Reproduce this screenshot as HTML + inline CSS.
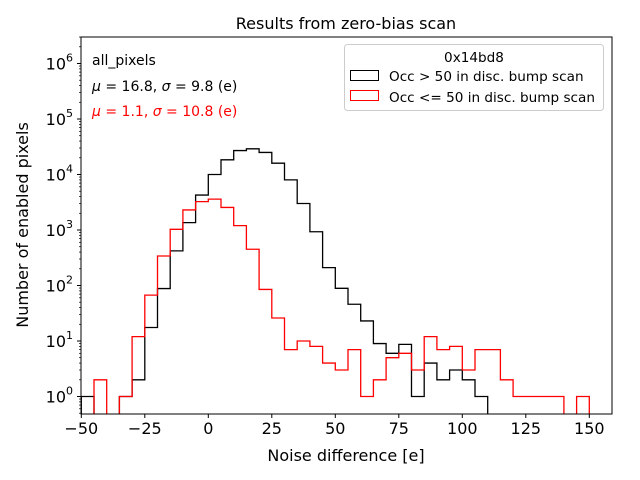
<!DOCTYPE html>
<html><head><meta charset="utf-8"><style>
html,body{margin:0;padding:0;background:#fff;overflow:hidden;width:640px;height:480px;}
svg{display:block;}
svg text{font-family:"DejaVu Sans","Liberation Sans",sans-serif;}
</style></head><body>
<svg id="chart" width="640" height="480" viewBox="0 0 640 480" xmlns="http://www.w3.org/2000/svg">
<defs><clipPath id="clip"><rect x="81" y="37" width="531" height="377"/></clipPath></defs>
<rect width="640" height="480" fill="#fff"/>
<text x="346" y="29" font-size="16" text-anchor="middle">Results from zero-bias scan</text>
<g id="series" clip-path="url(#clip)"></g>
<g id="axes"></g>
<text x="346" y="461" font-size="16" text-anchor="middle">Noise difference [e]</text>
<text transform="translate(28,225) rotate(-90)" font-size="16" text-anchor="middle">Number of enabled pixels</text>
<text x="92" y="65" font-size="14">all_pixels</text>
<text x="92" y="91" font-size="14"><tspan font-style="italic">μ</tspan> = 16.8, <tspan font-style="italic">σ</tspan> = 9.8 (e)</text>
<text x="92" y="116" font-size="14" fill="red"><tspan font-style="italic">μ</tspan> = 1.1, <tspan font-style="italic">σ</tspan> = 10.8 (e)</text>
<g>
<rect x="344.5" y="44.5" width="259" height="66" rx="3" fill="#fff" stroke="#ccc"/>
<text x="474" y="62" font-size="13.6" text-anchor="middle">0x14bd8</text>
<rect x="350.5" y="70.5" width="28" height="10" fill="none" stroke="#000"/>
<text x="389" y="81" font-size="13.6">Occ &gt; 50 in disc. bump scan</text>
<rect x="350.5" y="90.5" width="28" height="10" fill="none" stroke="red"/>
<text x="389" y="102" font-size="13.6">Occ &lt;= 50 in disc. bump scan</text>
</g>
</svg>
<script>
const binStart = -50;
const binWidth = 5;
const blackCounts = [1,0,0,1,2,17.5,88,420,1360,4260,10000,18400,27000,29000,25000,16000,8000,3000,930,210,89,46,23,9,6,8.7,1,4,2,3,2,1,0,0,0,0,0,0,0,0];
const redCounts = [0,2,0,1,12,67,340,1030,2300,3250,3600,2550,1200,450,85,26,7,10,8,4,3,7,1,2,5,6,3,12,7,8,3,7,7,2,1,1,1,1,0,1];
const xTicks = [-50,-25,0,25,50,75,100,125,150];
const yTicks = [0,1,2,3,4,5,6];
const NS="http://www.w3.org/2000/svg";
const L=81,R=612,T=37,B=414;
function xs(v){return 208.3+v*2.54;}
function ys(v){const lv=v>0?Math.log10(v):-3;return 396.5-lv*55.5;}
function mk(tag,attrs,parent){const e=document.createElementNS(NS,tag);for(const k in attrs)e.setAttribute(k,attrs[k]);parent.appendChild(e);return e;}
const series=document.getElementById('series'),axes=document.getElementById('axes');
function drawHist(counts,color,name){
  let d='',prevY=ys(0);
  counts.forEach((c,i)=>{const x0=xs(binStart+i*binWidth),x1=xs(binStart+(i+1)*binWidth),y=ys(c);
    d+=(i===0?'M'+x0+' '+prevY:'')+' L'+x0+' '+y+' L'+x1+' '+y;prevY=y;});
  d+=' L'+xs(binStart+counts.length*binWidth)+' '+ys(0);
  const p=mk('path',{d:d,fill:'none',stroke:color,'stroke-width':1.3},series);
  
  
}
drawHist(blackCounts,'#000','black-histogram');
drawHist(redCounts,'red','red-histogram');
const frame=mk('rect',{x:L,y:T,width:R-L,height:B-T,fill:'none',stroke:'#000','stroke-width':1},axes);


xTicks.forEach(v=>{const x=xs(v);mk('line',{x1:x,x2:x,y1:B,y2:B+4,stroke:'#000'},axes);
  const t=mk('text',{x:x,y:B+20,'font-size':16,'text-anchor':'middle'},axes);t.textContent=v<0?'\u2212'+(-v):String(v);
  
  });
yTicks.forEach(p=>{const y=ys(Math.pow(10,p));mk('line',{x1:L-4,x2:L,y1:y,y2:y,stroke:'#000'},axes);
  const t=mk('text',{x:L-8,y:y+6,'font-size':16,'text-anchor':'end'},axes);
  
  
  t.textContent='10';const s=mk('tspan',{dy:-8,'font-size':11},t);s.textContent=String(p);
});
for(let p=-1;p<=6;p++)for(let m=2;m<=9;m++){const y=ys(m*Math.pow(10,p));if(y>T&&y<B)mk('line',{x1:L-2,x2:L,y1:y,y2:y,stroke:'#000','stroke-width':0.7},axes);}
</script>
</body></html>
